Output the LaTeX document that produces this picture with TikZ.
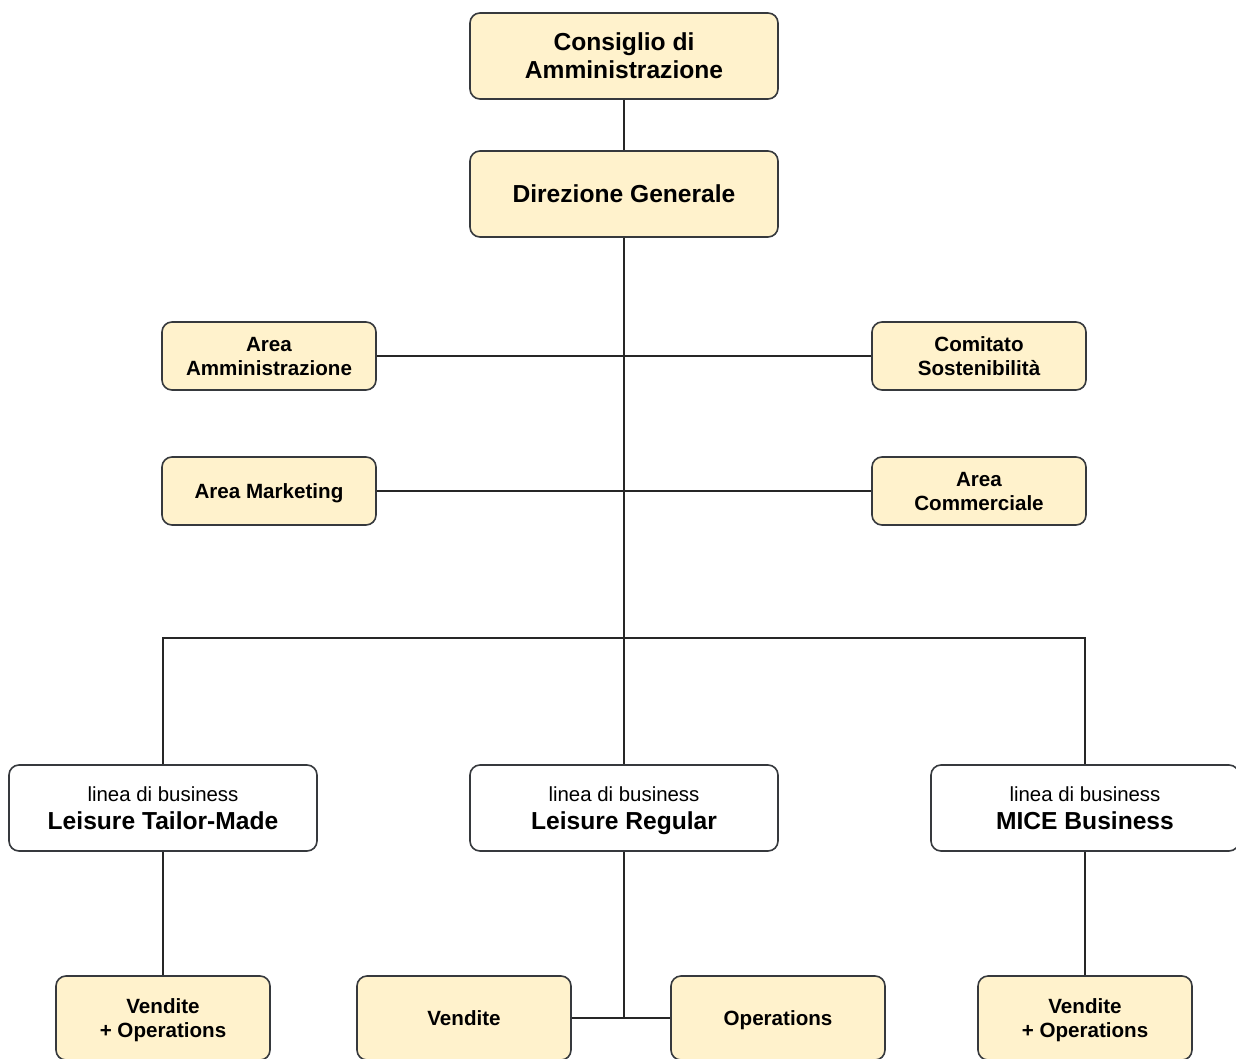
\documentclass[tikz,border=0pt]{standalone}
\usepackage{fontspec}
\setmainfont{Liberation Sans}
\usetikzlibrary{positioning}
\definecolor{boxfill}{HTML}{FFF2CC}
\definecolor{boxline}{HTML}{36393D}
\tikzset{
  unit/.style={draw=boxline,line width=0.8pt,rounded corners=5pt,fill=boxfill,
    align=center,inner sep=0pt,text depth=0pt,minimum width=107pt,minimum height=34pt,
    font=\fontsize{10.3}{12}\selectfont\bfseries},
  head/.style={unit,minimum width=154pt,minimum height=43pt,
    font=\fontsize{12.3}{14}\selectfont\bfseries},
  bline/.style={head,fill=white},
  task/.style={unit,minimum height=42pt},
  link/.style={draw=black!85,line width=0.8pt}
}
\newcommand{\lob}[1]{{\fontsize{10.2}{12}\selectfont\mdseries linea di business}\\#1}

\begin{document}
\begin{tikzpicture}[x=0.5pt,y=-0.5pt]
  \useasboundingbox (0,0) rectangle (1236,1059);
  \node[head] (cda) at (624,56) {Consiglio di\\Amministrazione};
  \node[head] (dg) at (624,194) {Direzione Generale};
  \node[unit] (aa) at (269,356) {Area\\Amministrazione};
  \node[unit] (cs) at (979,356) {Comitato\\Sostenibilità};
  \node[unit] (am) at (269,491) {Area Marketing};
  \node[unit] (ac) at (979,491) {Area\\Commerciale};
  \node[bline] (ltm) at (163,808) {\lob{Leisure Tailor-Made}};
  \node[bline] (lr) at (624,808) {\lob{Leisure Regular}};
  \node[bline] (mb) at (1085,808) {\lob{MICE Business}};
  \node[task] (vo1) at (163,1018) {Vendite\\+ Operations};
  \node[task] (ven) at (464,1018) {Vendite};
  \node[task] (ops) at (778,1018) {Operations};
  \node[task] (vo2) at (1085,1018) {Vendite\\+ Operations};
  \coordinate (bus) at (624,638);
  \coordinate (split) at (624,1018);

  \path[link]
    (cda) edge (dg)
    (dg) edge (lr)
    (aa) edge (cs)
    (am) edge (ac)
    (ltm) edge (vo1)
    (mb) edge (vo2)
    (lr) edge (split)
    (ven) edge (ops);
  \draw[link] (ltm) |- (bus) -| (mb);
\end{tikzpicture}
\end{document}
